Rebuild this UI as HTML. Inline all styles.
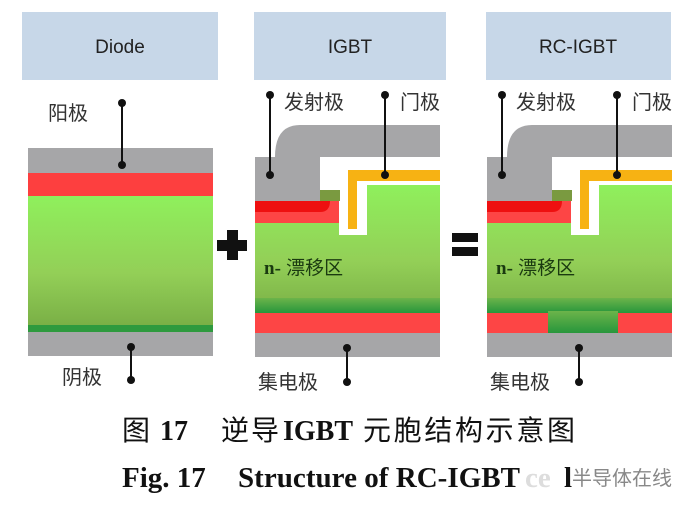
<!DOCTYPE html>
<html><head><meta charset="utf-8"><style>
html,body{margin:0;padding:0;background:#fff;}
svg{display:block}
.cjk{font-family:"Liberation Sans","Noto Sans CJK SC",sans-serif;}
.ser{font-family:"Liberation Serif","Noto Serif CJK SC",serif;}
</style></head><body>
<svg width="692" height="510" viewBox="0 0 692 510" xmlns="http://www.w3.org/2000/svg">
<defs>
<linearGradient id="g" x1="0" y1="0" x2="0" y2="1">
<stop offset="0" stop-color="#8ff05c"/><stop offset="0.6" stop-color="#93cf57"/><stop offset="1" stop-color="#7ab046"/>
</linearGradient>
<linearGradient id="dg" x1="0" y1="0" x2="0" y2="1">
<stop offset="0" stop-color="#6cb44a"/><stop offset="1" stop-color="#27963c"/>
</linearGradient>
</defs>
<rect width="692" height="510" fill="#fff"/>
<!-- headers -->
<rect x="22" y="12" width="196" height="68" fill="#c7d7e8"/>
<rect x="254" y="12" width="192" height="68" fill="#c7d7e8"/>
<rect x="486" y="12" width="185" height="68" fill="#c7d7e8"/>
<g font-family="Liberation Sans, sans-serif" font-size="19" fill="#222" text-anchor="middle">
<text x="120" y="53">Diode</text>
<text x="350" y="53">IGBT</text>
<text x="578" y="53">RC-IGBT</text>
</g>

<!-- Diode -->
<rect x="28" y="148" width="185" height="25" fill="#a6a6a8"/>
<rect x="28" y="173" width="185" height="23" fill="#fd3f3f"/>
<rect x="28" y="196" width="185" height="129" fill="url(#g)"/>
<rect x="28" y="325" width="185" height="7" fill="#2e9a3e"/>
<rect x="28" y="332" width="185" height="24" fill="#a6a6a8"/>
<g stroke="#111" stroke-width="2"><line x1="122" y1="103" x2="122" y2="165"/><line x1="131" y1="347" x2="131" y2="380"/></g>
<g fill="#111"><circle cx="122" cy="103" r="4"/><circle cx="122" cy="165" r="4"/><circle cx="131" cy="347" r="4"/><circle cx="131" cy="380" r="4"/></g>
<g class="cjk" font-size="20" fill="#333">
<text x="48" y="120">阳极</text>
<text x="62" y="384">阴极</text>
</g>

<!-- plus / equals -->
<rect x="217" y="240" width="30" height="11" fill="#111"/>
<rect x="227" y="230" width="11" height="30" fill="#111"/>
<rect x="452" y="233" width="26" height="9" fill="#111"/>
<rect x="452" y="247" width="26" height="9" fill="#111"/>

<!-- IGBT and RC-IGBT -->
<g id="dev">
<path d="M255 157 L275 157 Q275 125 300 125 L440 125 L440 157 L320 157 L320 201 L255 201 Z" fill="#a6a6a8"/>
<rect x="320" y="190" width="20" height="11" fill="#7a9a40"/>
<rect x="255" y="201" width="84" height="22" fill="#fd4545"/>
<path d="M255 201 L330 201 Q330 212 320 212 L255 212 Z" fill="#ee1010"/>
<path d="M255 223 L339 223 L339 235 L367 235 L367 185 L440 185 L440 313 L255 313 Z" fill="url(#g)"/>
<rect x="255" y="298" width="185" height="15" fill="url(#dg)"/>
<path d="M348 170 L440 170 L440 181 L357 181 L357 229 L348 229 Z" fill="#f7b213"/>
<rect x="255" y="333" width="185" height="24" fill="#a6a6a8"/>
<text x="264" y="274" class="cjk" font-size="19" fill="#1a3a10"><tspan font-weight="bold" class="ser">n-</tspan> 漂移区</text>
<g stroke="#111" stroke-width="2"><line x1="270" y1="95" x2="270" y2="175"/><line x1="385" y1="95" x2="385" y2="175"/><line x1="347" y1="348" x2="347" y2="382"/></g>
<g fill="#111"><circle cx="270" cy="95" r="4"/><circle cx="270" cy="175" r="4"/><circle cx="385" cy="95" r="4"/><circle cx="385" cy="175" r="4"/><circle cx="347" cy="348" r="4"/><circle cx="347" cy="382" r="4"/></g>
<g class="cjk" font-size="20" fill="#333">
<text x="284" y="109">发射极</text>
<text x="400" y="109">门极</text>
<text x="258" y="389">集电极</text>
</g>
</g>
<rect x="255" y="313" width="185" height="20" fill="#fd4545"/>

<use href="#dev" transform="translate(232,0)"/>
<rect x="487" y="313" width="185" height="20" fill="#fd4545"/>
<rect x="548" y="311" width="70" height="22" fill="url(#dg)"/>

<!-- captions -->
<g fill="#111">
<text x="122" y="440" font-family="Noto Sans CJK SC, sans-serif" font-size="28">图</text>
<text x="160" y="440" class="ser" font-size="28" font-weight="bold">17</text>
<text x="221" y="440" font-family="Noto Sans CJK SC, sans-serif" font-size="28" textLength="58">逆导</text>
<text x="283" y="440" class="ser" font-size="28" font-weight="bold" textLength="70">IGBT</text>
<text x="363" y="440" font-family="Noto Sans CJK SC, sans-serif" font-size="28" textLength="212">元胞结构示意图</text>
<text x="122" y="487" class="ser" font-size="29" font-weight="bold">Fig. 17</text>
<text x="238" y="487" class="ser" font-size="29" font-weight="bold" textLength="282">Structure of RC-IGBT</text>
<text x="525" y="487" class="ser" font-size="29" font-weight="bold" fill="#ddd">ce</text>
<text x="564" y="487" class="ser" font-size="29" font-weight="bold">l</text>
</g>
<text x="572" y="485" class="cjk" font-size="20" fill="#888" textLength="100">半导体在线</text>
</svg>
</body></html>
